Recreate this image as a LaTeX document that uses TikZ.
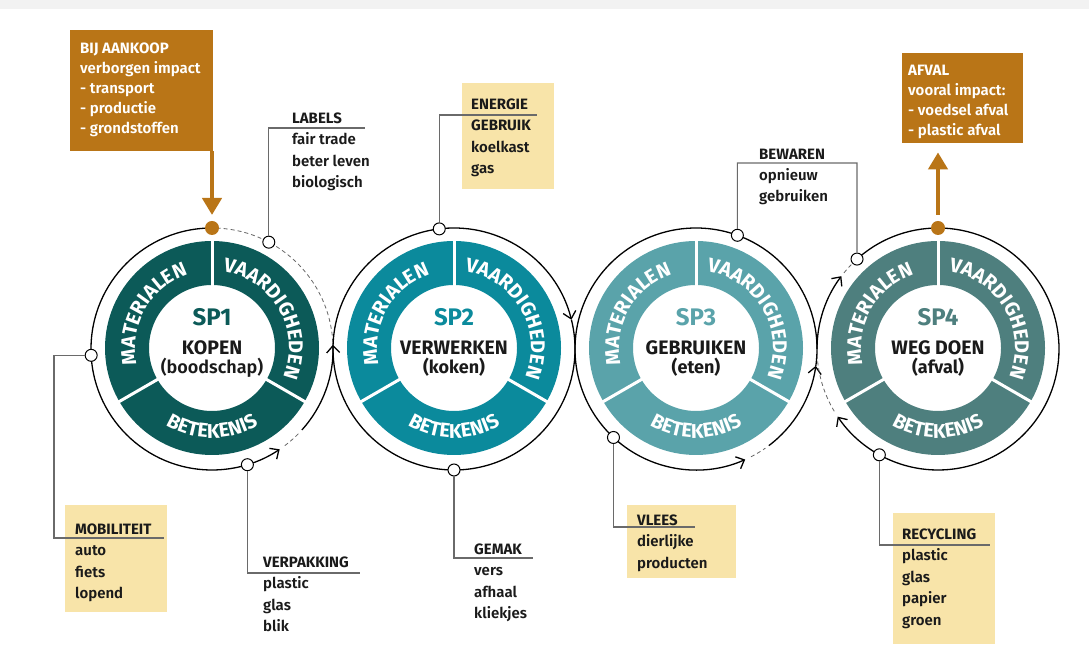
\documentclass[tikz,border=0pt]{standalone}
\usepackage{fontspec}
\setmainfont{Fira Sans}[UprightFont=* SemiBold,BoldFont=* Bold]
\newfontfamily\ringfam{Fira Sans Bold}[LetterSpace=7]
\usetikzlibrary{arrows.meta,decorations.text,calc}
\definecolor{cA}{HTML}{0C5A58}
\definecolor{cB}{HTML}{0B8A9C}
\definecolor{cC}{HTML}{5AA3AA}
\definecolor{cD}{HTML}{4E7F7E}
\definecolor{orng}{HTML}{B97517}
\definecolor{yel}{HTML}{F8E4A9}
\definecolor{ink}{HTML}{1A1A1A}
\definecolor{conncol}{HTML}{6A6A6A}
\definecolor{band}{HTML}{F2F2F2}
\newcommand\ringfont{\ringfam\fontsize{20}{20}\selectfont}
\newcommand\wheel[6]{%
  \coordinate (#1) at (#2,319);
  \coordinate (#1r) at (#2,320);
  \fill[#3,even odd rule] (#1r) circle[radius=107] (#1r) circle[radius=63];
  \foreach \ang in {90,210,330}{\draw[white,line width=3pt] ($(#1r)+(\ang:60)$) -- ($(#1r)+(\ang:110)$);}
  \path[decorate,decoration={text along path,text align=center,text color=white,text={|\ringfont|MATERIALEN}}] ($(#1r)+(210:77)$) arc[start angle=210,end angle=90,radius=77];
  \path[decorate,decoration={text along path,text align=center,text color=white,text={|\ringfont|VAARDIGHEDEN}}] ($(#1r)+(90:77)$) arc[start angle=90,end angle=-30,radius=77];
  \path[decorate,decoration={text along path,text align=center,text color=white,text={|\ringfont|BETEKENIS}}] ($(#1r)+(210:90)$) arc[start angle=210,end angle=330,radius=90];
  \node[sptxt,text=#3] (#1a) at (#2,342) {#4};
  \node[nmtxt] (#1b) at (#2,313) {#5};
  \node[subtxt] (#1c) at (#2,294) {#6};
}
\newcommand\oarc[4]{\draw[#1] ($(#2)+(#3:121)$) arc[start angle=#3,end angle=#4,radius=121];}
\begin{document}
\begin{tikzpicture}[x=1pt,y=1pt,
  sptxt/.style={font=\bfseries\fontsize{24}{24}\selectfont,anchor=base,inner sep=0pt},
  nmtxt/.style={font=\bfseries\fontsize{19.5}{19.5}\selectfont,anchor=base,inner sep=0pt,text=ink},
  subtxt/.style={font=\fontsize{18}{18}\selectfont,anchor=base,inner sep=0pt,text=ink},
  lbl/.style={anchor=north west,inner sep=0pt,align=left,font=\fontsize{15}{21.5}\selectfont,text=ink},
  wlbl/.style={lbl,text=white,font=\fontsize{15}{20}\selectfont},
  obox/.style={fill=orng,inner sep=0pt,anchor=north west},
  ybox/.style={fill=yel,inner sep=0pt,anchor=north west},
  flow/.style={line width=1.3pt,draw=black},
  farr/.style={flow,-{Straight Barb[length=7pt,width=13pt]}},
  dsh/.style={line width=0.8pt,draw=black!60,dash pattern=on 4pt off 3pt},
  conn/.style={line width=1.1pt,draw=conncol},
  wdot/.style={circle,draw=black,fill=white,line width=1pt,minimum size=12pt,inner sep=0pt},
  odot/.style={circle,fill=orng,minimum size=14pt,inner sep=0pt},
  oarr/.style={draw=orng,line width=4.5pt,-{Triangle[length=17pt,width=19pt]}}]
\useasboundingbox (0,0) rectangle (1089,668);
\fill[band] (0,659) rectangle (1089,668);
% boxes
\node[obox,minimum width=143pt,minimum height=121pt] (bij) at (70,638) {};
\node[obox,minimum width=121pt,minimum height=90pt] (afv) at (902,615) {};
\node[ybox,minimum width=92pt,minimum height=106pt] (ene) at (462,585) {};
\node[ybox,minimum width=102pt,minimum height=107pt] (mob) at (65,163) {};
\node[ybox,minimum width=109pt,minimum height=73pt] (vle) at (627,163) {};
\node[ybox,minimum width=102pt,minimum height=131pt] (rec) at (893,155) {};
% wheels
\wheel{w1}{212}{cA}{SP1}{KOPEN}{(boodschap)}
\wheel{w2}{454}{cB}{SP2}{VERWERKEN}{\textbf{(koken)}}
\wheel{w3}{696}{cC}{SP3}{GEBRUIKEN}{\textbf{(eten)}}
\wheel{w4}{938}{cD}{SP4}{WEG DOEN}{\textbf{(afval)}}
% outer flow circles
\oarc{farr}{w1}{90}{304}
\oarc{dsh}{w1}{307}{316}
\oarc{farr}{w1}{318}{362}
\oarc{dsh}{w1}{3}{90}
\oarc{farr}{w2}{180}{14}
\oarc{flow}{w2}{14}{-180}
\oarc{farr}{w3}{180}{294}
\oarc{dsh}{w3}{297}{305}
\oarc{farr}{w3}{307}{352}
\oarc{flow}{w3}{352}{540}
\oarc{farr}{w4}{132}{-146}
\oarc{dsh}{w4}{-149}{-180}
\oarc{farr}{w4}{180}{143}
\oarc{dsh}{w4}{141}{133}
% dots
\node[wdot] (pLab) at ($(w1)+(62:121)$) {};
\node[wdot] (pMob) at ($(w1)+(183:121)$) {};
\node[wdot] (pVer) at ($(w1)+(287:121)$) {};
\node[odot] (pBij) at ($(w1)+(90:121)$) {};
\node[wdot] (pEne) at ($(w2)+(97:121)$) {};
\node[wdot] (pGem) at ($(w2)+(270:121)$) {};
\node[wdot] (pBew) at ($(w3)+(70:121)$) {};
\node[wdot] (pVle) at ($(w3)+(227:121)$) {};
\node[wdot] (pBew4) at ($(w4)+(132:121)$) {};
\node[wdot] (pRec) at ($(w4)+(241:121)$) {};
\node[odot] (pAfv) at ($(w4)+(90:121)$) {};
% connectors
\coordinate (kLab) at (365,540);
\coordinate (kEne) at (537,553);
\coordinate (kBew) at (857,505);
\coordinate (kMob1) at (54,130);
\coordinate (kMob2) at (164,130);
\coordinate (kVer) at (360,95);
\coordinate (kGem) at (533,110);
\coordinate (kVle) at (695,141);
\coordinate (kRec) at (990,123);
\draw[conn] (pLab) |- (kLab);
\draw[conn] (pEne) |- (kEne);
\draw[conn] (pBew) |- (kBew) -- (pBew4);
\draw[conn] (pMob) -| (kMob1) -- (kMob2);
\draw[conn] (pVer) |- (kVer);
\draw[conn] (pGem) |- (kGem);
\draw[conn] (pVle) |- (kVle);
\draw[conn] (pRec) |- (kRec);
% orange arrows
\draw[oarr] (bij.south -| pBij) -- ([yshift=13pt]pBij.center);
\draw[oarr,shorten >=9pt] ([yshift=13pt]pAfv.center) -- (afv.south -| pAfv);
% texts
\node[wlbl] (tBij) at (80,625.5) {\textbf{BIJ AANKOOP}\\verborgen impact\\- transport\\- productie\\- grondstoffen};
\node[wlbl] (tAfv) at (908,603.5) {\textbf{AFVAL}\\vooral impact:\\- voedsel afval\\- plastic afval};
\node[lbl] (tLab) at (292,555.5) {\textbf{LABELS}\\fair trade\\beter leven\\biologisch};
\node[lbl] (tEne) at (471,569.5) {\textbf{ENERGIE}\\\textbf{GEBRUIK}\\koelkast\\gas};
\node[lbl,font=\fontsize{15}{21}\selectfont] (tBew) at (759,519.5) {\textbf{BEWAREN}\\opnieuw\\gebruiken};
\node[lbl] (tMob) at (75,144.5) {\textbf{MOBILITEIT}\\auto\\fiets\\lopend};
\node[lbl] (tVer) at (263,111.5) {\textbf{VERPAKKING}\\plastic\\glas\\blik};
\node[lbl] (tGem) at (474,124.5) {\textbf{GEMAK}\\vers\\afhaal\\kliekjes};
\node[lbl] (tVle) at (637,153.5) {\textbf{VLEES}\\dierlijke\\producten};
\node[lbl] (tRec) at (902,139.5) {\textbf{RECYCLING}\\plastic\\glas\\papier\\groen};
\end{tikzpicture}
\end{document}
